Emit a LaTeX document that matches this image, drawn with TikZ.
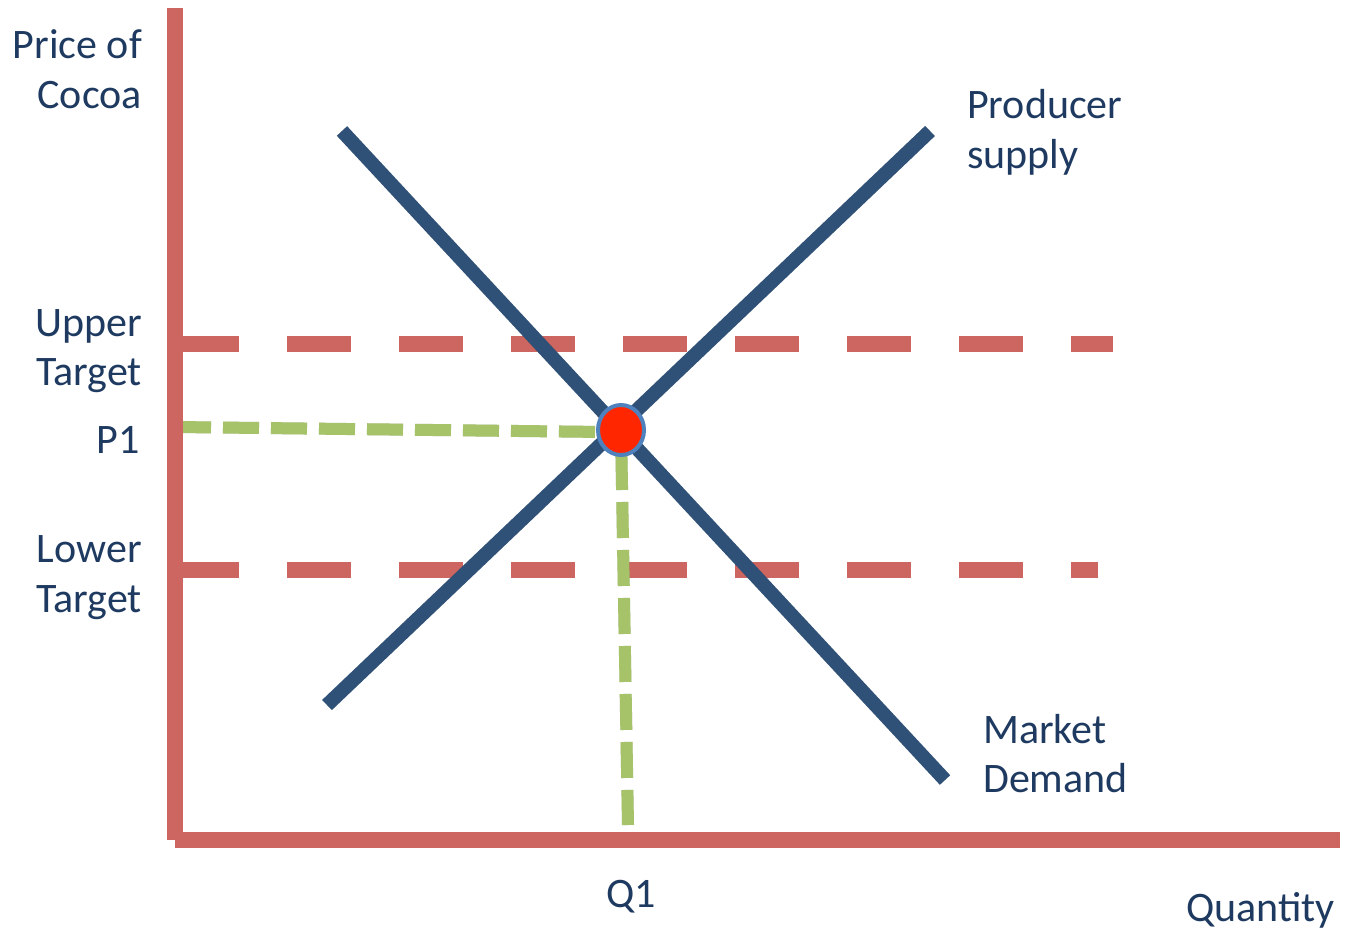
\documentclass[tikz,border=0pt]{standalone}
\usepackage{fontspec}
\setmainfont{Carlito}
\definecolor{axisred}{RGB}{205,102,96}
\definecolor{guidegreen}{RGB}{166,195,106}
\definecolor{curveblue}{RGB}{47,81,119}
\definecolor{labelblue}{RGB}{31,58,96}
\definecolor{ringblue}{RGB}{79,129,189}
\definecolor{eqred}{RGB}{255,38,0}
\begin{document}
\begin{tikzpicture}[x=1pt,y=-1pt,
  axisline/.style={line width=16pt, draw=axisred},
  targetline/.style={line width=16pt, draw=axisred, dash pattern=on 64pt off 48pt},
  guideline/.style={line width=12pt, draw=guidegreen, dash pattern=on 36pt off 12pt},
  curveline/.style={line width=14pt, draw=curveblue},
  softshadow/.style={draw=black, draw opacity=0.16, shift={(2,3)}},
  lbl/.style={text=labelblue, font=\fontsize{42}{50}\selectfont, inner sep=0pt},
]
\fill[white] (0,0) rectangle (1349,931);
\useasboundingbox (0,0) rectangle (1349,931);

% named points
\coordinate (ytop) at (175,8);
\coordinate (origin) at (175,840);
\coordinate (xend) at (1340,840);
\coordinate (ut1) at (175,344);
\coordinate (ut2) at (1113,344);
\coordinate (lt1) at (175,570);
\coordinate (lt2) at (1098,570);
\coordinate (p1a) at (175,427);
\coordinate (p1b) at (605,432);
\coordinate (eq) at (621,430);
\coordinate (q1b) at (628,825);
\coordinate (s1) at (327,705);
\coordinate (s2) at (930,131);
\coordinate (d1) at (342,131);
\coordinate (d2) at (945,780);

% target price bands
\draw[targetline, softshadow] (ut1) -- (ut2);
\draw[targetline] (ut1) -- (ut2);
\draw[targetline, softshadow] (lt1) -- (lt2);
\draw[targetline] (lt1) -- (lt2);

% P1 / Q1 guides
\draw[guideline, softshadow] (p1a) -- (p1b);
\draw[guideline] (p1a) -- (p1b);
\draw[guideline, dash phase=24pt, softshadow] (eq) -- (q1b);
\draw[guideline, dash phase=24pt] (eq) -- (q1b);

% supply and demand
\draw[curveline, softshadow] (s1) -- (s2);
\draw[curveline] (s1) -- (s2);
\draw[curveline, softshadow] (d1) -- (d2);
\draw[curveline] (d1) -- (d2);

% equilibrium point
\draw[line width=4pt, draw=ringblue, fill=eqred] (eq) ellipse [x radius=23, y radius=25];

% axes
\draw[axisline, softshadow] (ytop) -- (origin);
\draw[axisline] (ytop) -- (origin);
\draw[axisline, softshadow] (origin) -- (xend);
\draw[axisline] (origin) -- (xend);

% labels
\node[lbl, anchor=base east] (price1) at (142,59) {Price of};
\node[lbl, anchor=base east] (price2) at (142,109) {Cocoa};
\node[lbl, anchor=base east] (upper1) at (142,336) {Upper};
\node[lbl, anchor=base east] (upper2) at (142,385) {Target};
\node[lbl, anchor=base east] (p1) at (140,453) {P1};
\node[lbl, anchor=base east] (lower1) at (142,562) {Lower};
\node[lbl, anchor=base east] (lower2) at (142,612) {Target};
\node[lbl, anchor=base west] (prod1) at (967,119) {Producer};
\node[lbl, anchor=base west] (prod2) at (967,168) {supply};
\node[lbl, anchor=base west] (mkt1) at (983,743) {Market};
\node[lbl, anchor=base west] (mkt2) at (983,792) {Demand};
\node[lbl, anchor=base] (q1) at (631,907) {Q1};
\node[lbl, anchor=base east] (qty) at (1335,921) {Quantity};
\end{tikzpicture}
\end{document}
